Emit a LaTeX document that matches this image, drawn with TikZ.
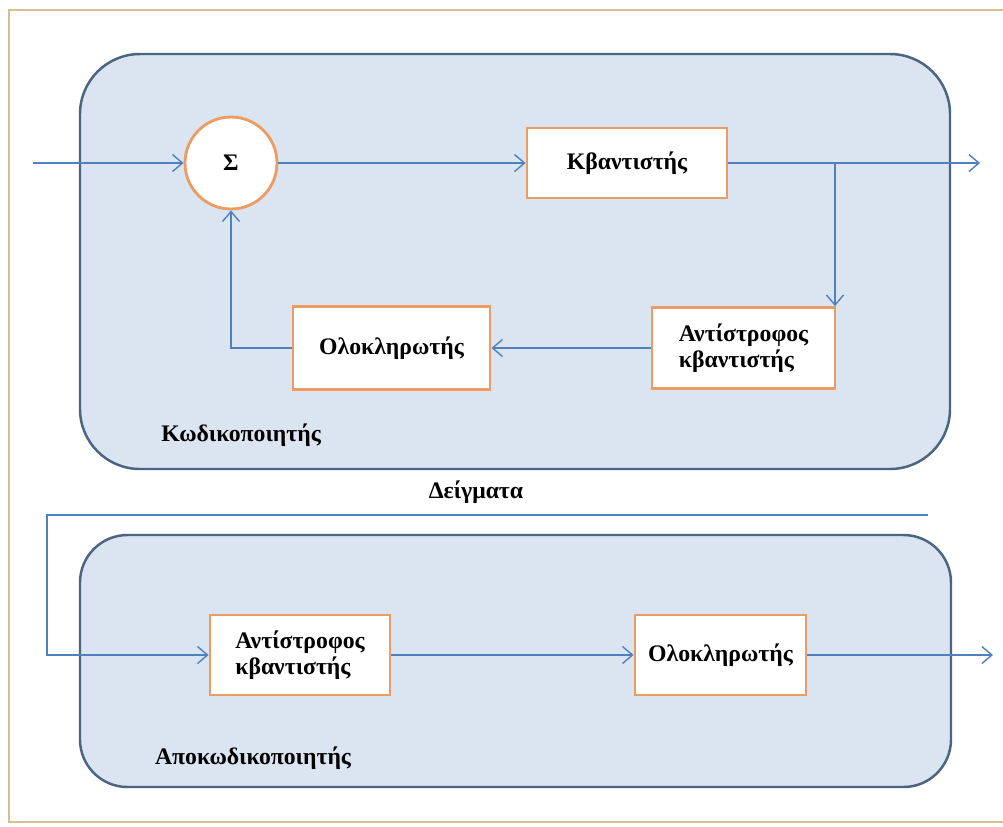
\documentclass[tikz,border=0pt]{standalone}
\usepackage{fontspec}
\setmainfont{Liberation Serif}
\usepackage{xcolor}
\usetikzlibrary{arrows.meta}

\definecolor{frametan}{HTML}{D8C08E}
\definecolor{panelfill}{HTML}{DBE5F1}
\definecolor{paneledge}{HTML}{4A6482}
\definecolor{boxedge}{HTML}{EC9C62}
\definecolor{wireblue}{HTML}{4F81BD}

\begin{document}
\begin{tikzpicture}[x=0.2mm,y=-0.2mm,
    font=\fontsize{13.5}{15}\selectfont\bfseries,
    panel/.style={draw=paneledge,line width=1.4pt,fill=panelfill,rounded corners=1.2cm},
    blk/.style={draw=boxedge,line width=1.6pt,fill=white,inner sep=2pt},
    sumnode/.style={circle,draw=boxedge,line width=1.6pt,fill=white,minimum size=1.84cm,inner sep=0pt},
    wire/.style={draw=wireblue,line width=0.8pt},
    arr/.style={wire,-{Straight Barb[length=2mm,width=3.4mm,line width=0.8pt]}}]
    \useasboundingbox (0,0) rectangle (1003,826);
    \fill[white] (0,0) rectangle (1003,826);
    \draw[frametan,line width=1.6pt] (1003,10) -- (9,10) -- (9,822) -- (1003,822);

    % encoder and decoder panels
    \draw[panel] (80,54) rectangle (950,469);
    \draw[panel,rounded corners=0.95cm] (80,535) rectangle (951,787);

    \node (sum) at (231,163) [sumnode] {Σ};
    \node (quant) at (627,163) [blk,minimum width=4cm,minimum height=1.4cm] {Κβαντιστής};
    \node (iquant) at (743.5,348) [blk,minimum width=3.66cm,minimum height=1.62cm,align=left] {Αντίστροφος\\κβαντιστής};
    \node (integ) at (391.5,348) [blk,minimum width=3.94cm,minimum height=1.66cm] {Ολοκληρωτής};
    \node (enc) at (241,435) {Κωδικοποιητής};

    \node (smp) at (476,492) {Δείγματα};

    \node (dquant) at (300,655) [blk,minimum width=3.6cm,minimum height=1.6cm,align=left] {Αντίστροφος\\κβαντιστής};
    \node (dinteg) at (720.5,655) [blk,minimum width=3.42cm,minimum height=1.6cm] {Ολοκληρωτής};
    \node (dec) at (253,758) {Αποκωδικοποιητής};

    \coordinate (in) at (33,163);
    \coordinate (out) at (980,163);
    \coordinate (tap) at (835,163);
    \coordinate (smpR) at (928,515);
    \coordinate (smpL) at (47,515);
    \coordinate (dout) at (993,655);

    \draw[arr] (in) -- (sum);
    \draw[arr] (sum) -- (quant);
    \draw[arr] (quant) -- (out);
    \draw[arr] (tap) -- (tap |- iquant.north);
    \draw[arr] (iquant) -- (integ);
    \draw[arr] (integ.west) -| (sum.south);
    \draw[arr] (smpR) -- (smpL) -- (smpL |- dquant.west) -- (dquant.west);
    \draw[arr] (dquant) -- (dinteg);
    \draw[arr] (dinteg.east) -- (dout);
\end{tikzpicture}
\end{document}
